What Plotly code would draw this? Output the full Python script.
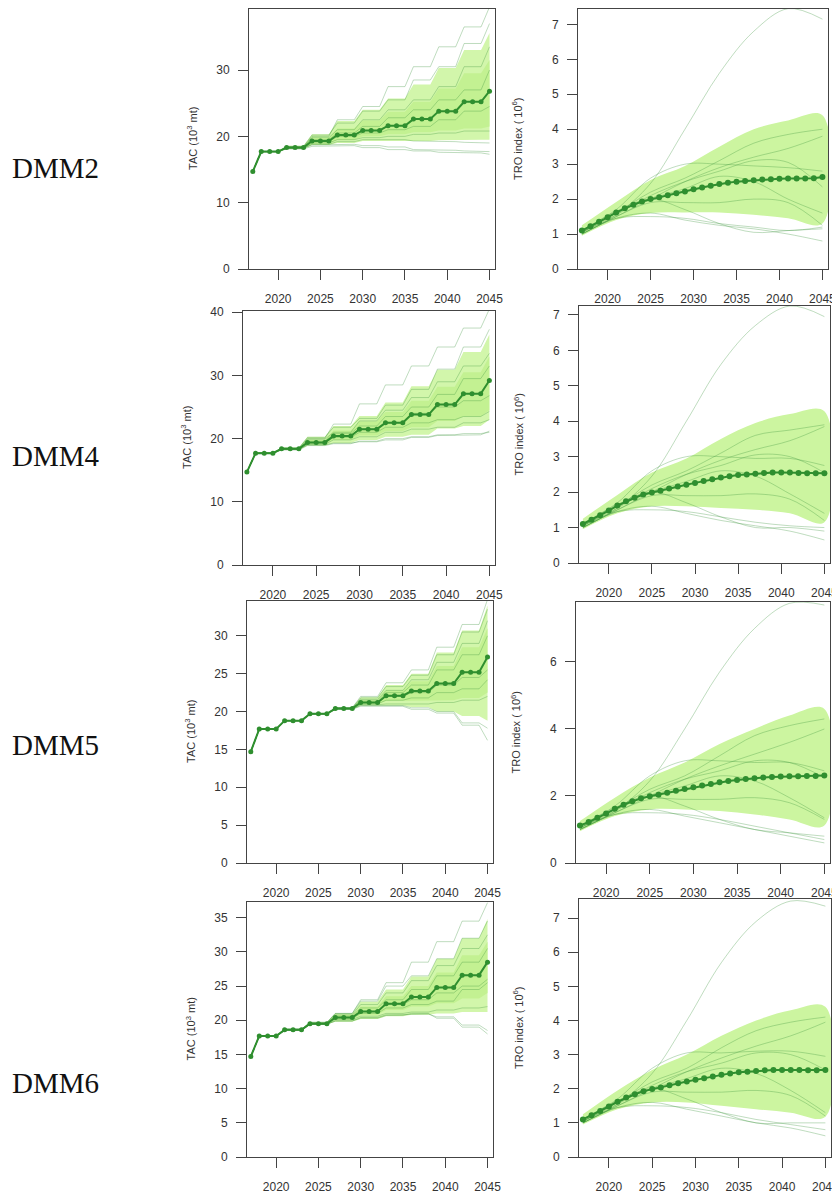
import plotly.graph_objects as go

# ---------------- DATA ----------------
YEARS = list(range(2017, 2046))
TRO_X = [2017, 2021, 2025, 2029, 2033, 2037, 2041, 2045]
ROW_LABELS = ["DMM2", "DMM4", "DMM5", "DMM6"]
TAC_TICKS = [[0, 10, 20, 30], [0, 10, 20, 30, 40], [0, 5, 10, 15, 20, 25, 30], [0, 5, 10, 15, 20, 25, 30, 35]]
TRO_TICKS = [[0, 1, 2, 3, 4, 5, 6, 7], [0, 1, 2, 3, 4, 5, 6, 7], [0, 2, 4, 6], [0, 1, 2, 3, 4, 5, 6, 7]]
X_TICKS = [2020, 2025, 2030, 2035, 2040, 2045]

# TAC values per management block: [2017, 2018-20, 2021-23, 2024-26, 2027-29, 2030-32, 2033-35, 2036-38, 2039-41, 2042-44, 2045]
tac_med_dmm2 = [14.7, 17.7, 18.3, 19.3, 20.2, 20.9, 21.6, 22.6, 23.8, 25.2, 26.8]
tac_hi_dmm2 = [14.7, 17.8, 18.6, 20.3, 22.3, 24.0, 25.7, 27.8, 30.3, 33.0, 35.6]
tac_lo_dmm2 = [14.7, 17.6, 18.1, 18.7, 19.0, 19.3, 19.4, 19.3, 19.4, 19.5, 19.5]
tac_ihi_dmm2 = [14.7, 17.7, 18.4, 19.8, 21.2, 22.4, 23.7, 25.2, 27.2, 29.5, 31.5]
tac_ilo_dmm2 = [14.7, 17.7, 18.2, 18.9, 19.5, 20.0, 20.3, 20.6, 20.9, 21.2, 21.5]
tac_worms_dmm2 = [
    [14.7, 17.7, 18.4, 20.0, 22.5, 24.5, 27.5, 30.5, 33.5, 36.5, 39.5],
    [14.7, 17.7, 18.5, 20.2, 22.0, 23.8, 25.5, 28.5, 30.5, 34.0, 37.0],
    [14.7, 17.7, 18.4, 19.8, 21.0, 22.5, 24.0, 25.5, 27.5, 30.5, 33.5],
    [14.7, 17.7, 18.3, 19.5, 20.5, 21.5, 22.8, 24.0, 25.5, 27.0, 30.0],
    [14.7, 17.7, 18.3, 19.2, 20.0, 20.5, 21.0, 21.5, 22.5, 23.8, 24.5],
    [14.7, 17.7, 18.2, 19.0, 19.5, 19.8, 20.0, 20.3, 20.5, 20.8, 20.8],
    [14.7, 17.7, 18.2, 18.8, 19.2, 19.5, 19.5, 19.3, 19.2, 19.1, 19.0],
    [14.7, 17.7, 18.1, 18.5, 18.6, 18.3, 18.0, 17.8, 17.6, 17.5, 17.3],
    [14.7, 17.7, 18.2, 18.7, 18.8, 18.6, 18.4, 18.0, 17.9, 17.8, 17.7],
]

tac_med_dmm4 = [14.7, 17.7, 18.4, 19.4, 20.4, 21.5, 22.5, 23.8, 25.4, 27.1, 29.2]
tac_hi_dmm4 = [14.7, 17.8, 18.6, 20.3, 22.0, 23.6, 25.7, 28.3, 30.9, 33.7, 36.5]
tac_lo_dmm4 = [14.7, 17.6, 18.2, 18.9, 19.3, 19.8, 20.3, 20.6, 21.6, 22.0, 23.0]
tac_ihi_dmm4 = [14.7, 17.7, 18.5, 19.8, 21.3, 22.7, 24.2, 26.0, 28.2, 30.5, 33.0]
tac_ilo_dmm4 = [14.7, 17.7, 18.3, 19.1, 19.8, 20.5, 21.2, 21.8, 22.8, 23.5, 24.5]
tac_worms_dmm4 = [
    [14.7, 17.7, 18.5, 20.0, 22.3, 25.5, 28.5, 31.5, 34.5, 37.5, 40.5],
    [14.7, 17.7, 18.5, 20.2, 21.8, 23.2, 25.3, 27.8, 31.0, 34.5, 37.3],
    [14.7, 17.7, 18.4, 19.9, 21.0, 22.8, 24.5, 26.5, 29.0, 31.5, 33.5],
    [14.7, 17.7, 18.4, 19.6, 20.8, 22.0, 23.5, 25.0, 27.0, 29.5, 31.5],
    [14.7, 17.7, 18.4, 19.4, 20.5, 21.5, 22.5, 24.0, 25.0, 26.0, 26.8],
    [14.7, 17.7, 18.3, 19.3, 20.2, 21.0, 21.8, 22.5, 23.0, 23.5, 24.3],
    [14.7, 17.7, 18.3, 19.1, 19.8, 20.3, 21.0, 21.5, 21.8, 22.5, 23.0],
    [14.7, 17.7, 18.3, 19.0, 19.3, 19.5, 19.8, 20.2, 20.5, 20.6, 21.2],
    [14.7, 17.7, 18.2, 18.9, 19.2, 19.6, 20.0, 20.3, 20.6, 20.8, 21.0],
]

tac_med_dmm5 = [14.7, 17.7, 18.8, 19.7, 20.4, 21.2, 22.1, 22.7, 23.7, 25.2, 27.2]
tac_hi_dmm5 = [14.7, 17.7, 18.8, 19.7, 20.5, 21.9, 23.5, 25.0, 27.8, 30.7, 34.0]
tac_lo_dmm5 = [14.7, 17.7, 18.8, 19.7, 20.3, 20.8, 20.8, 20.6, 20.0, 19.4, 18.8]
tac_ihi_dmm5 = [14.7, 17.7, 18.8, 19.7, 20.45, 21.5, 22.8, 24.0, 26.0, 28.5, 31.0]
tac_ilo_dmm5 = [14.7, 17.7, 18.8, 19.7, 20.35, 21.0, 21.4, 21.5, 21.5, 21.8, 22.5]
tac_worms_dmm5 = [
    [14.7, 17.7, 18.8, 19.7, 20.5, 22.0, 23.8, 25.5, 28.5, 31.5, 34.8],
    [14.7, 17.7, 18.8, 19.7, 20.5, 21.8, 23.3, 24.8, 27.5, 30.5, 33.5],
    [14.7, 17.7, 18.8, 19.7, 20.5, 21.6, 22.8, 24.2, 26.5, 29.0, 32.0],
    [14.7, 17.7, 18.8, 19.7, 20.4, 21.4, 22.5, 23.5, 25.5, 27.5, 30.0],
    [14.7, 17.7, 18.8, 19.7, 20.4, 21.2, 22.0, 22.5, 23.5, 24.5, 25.5],
    [14.7, 17.7, 18.8, 19.7, 20.4, 21.0, 21.5, 21.8, 22.5, 23.0, 24.2],
    [14.7, 17.7, 18.8, 19.7, 20.3, 20.9, 21.0, 21.0, 21.2, 21.5, 22.0],
    [14.7, 17.7, 18.8, 19.7, 20.3, 20.8, 20.8, 20.5, 20.0, 18.5, 17.8],
    [14.7, 17.7, 18.8, 19.7, 20.3, 20.7, 20.7, 20.3, 19.8, 18.2, 16.2],
]

tac_med_dmm6 = [14.7, 17.7, 18.6, 19.5, 20.4, 21.3, 22.4, 23.4, 24.8, 26.6, 28.5]
tac_hi_dmm6 = [14.7, 17.7, 18.7, 19.7, 21.0, 22.7, 24.5, 26.4, 29.0, 32.0, 34.8]
tac_lo_dmm6 = [14.7, 17.7, 18.5, 19.4, 19.8, 20.2, 20.6, 20.8, 21.0, 21.2, 21.2]
tac_ihi_dmm6 = [14.7, 17.7, 18.65, 19.6, 20.8, 22.0, 23.5, 25.0, 27.0, 29.5, 31.5]
tac_ilo_dmm6 = [14.7, 17.7, 18.55, 19.45, 20.1, 20.8, 21.5, 22.0, 22.5, 23.2, 24.0]
tac_worms_dmm6 = [
    [14.7, 17.7, 18.7, 19.7, 21.0, 23.0, 25.5, 28.5, 31.5, 34.5, 37.2],
    [14.7, 17.7, 18.7, 19.7, 21.0, 22.8, 25.0, 26.5, 29.0, 32.0, 34.5],
    [14.7, 17.7, 18.7, 19.6, 20.8, 22.3, 24.0, 25.8, 28.0, 30.5, 32.5],
    [14.7, 17.7, 18.6, 19.6, 20.6, 21.8, 23.0, 24.5, 26.5, 28.5, 30.5],
    [14.7, 17.7, 18.6, 19.5, 20.4, 21.3, 22.3, 23.0, 24.0, 25.0, 26.0],
    [14.7, 17.7, 18.6, 19.5, 20.3, 21.0, 21.8, 22.3, 22.8, 24.5, 25.5],
    [14.7, 17.7, 18.6, 19.4, 20.1, 20.6, 21.0, 21.2, 21.5, 21.8, 22.0],
    [14.7, 17.7, 18.5, 19.4, 19.9, 20.3, 20.7, 21.0, 20.3, 19.0, 18.0],
    [14.7, 17.7, 18.5, 19.4, 19.9, 20.4, 20.8, 20.9, 20.5, 19.3, 18.5],
]

# TRO index: median per year, band and worms at TRO_X
tro_med_dmm2 = [1.10, 1.22, 1.35, 1.48, 1.62, 1.74, 1.84, 1.93, 2.00, 2.05, 2.11, 2.17, 2.22, 2.28, 2.33,
                2.38, 2.43, 2.47, 2.50, 2.52, 2.54, 2.56, 2.57, 2.58, 2.59, 2.59, 2.59, 2.60, 2.63]
tro_hi_dmm2 = [1.25, 1.92, 2.55, 2.95, 3.50, 4.00, 4.25, 4.40]
tro_lo_dmm2 = [0.95, 1.40, 1.60, 1.62, 1.62, 1.55, 1.45, 1.30]
tro_worms_dmm2 = [
    [1.00, 1.55, 2.45, 4.00, 5.60, 6.80, 7.45, 7.15],
    [1.05, 1.60, 2.20, 2.60, 3.10, 3.60, 3.85, 4.00],
    [1.00, 1.50, 2.00, 2.50, 2.90, 3.20, 3.45, 3.80],
    [1.10, 1.70, 2.60, 3.00, 3.00, 2.95, 2.90, 2.80],
    [1.05, 1.55, 2.10, 2.50, 2.80, 3.10, 3.05, 2.35],
    [1.05, 1.60, 2.00, 2.30, 2.65, 2.50, 2.00, 1.60],
    [1.00, 1.50, 1.90, 1.90, 1.90, 2.00, 1.90, 1.25],
    [1.10, 1.65, 2.00, 1.70, 1.30, 1.05, 1.10, 1.15],
    [1.00, 1.45, 1.60, 1.40, 1.25, 1.15, 1.00, 0.80],
    [1.05, 1.45, 1.50, 1.45, 1.30, 1.20, 1.10, 1.20],
]

tro_med_dmm4 = [1.10, 1.22, 1.35, 1.48, 1.62, 1.74, 1.84, 1.93, 1.99, 2.04, 2.10, 2.16, 2.21, 2.26, 2.31,
                2.36, 2.41, 2.45, 2.48, 2.50, 2.52, 2.54, 2.55, 2.55, 2.55, 2.54, 2.53, 2.53, 2.53]
tro_hi_dmm4 = [1.25, 1.92, 2.55, 2.95, 3.50, 3.95, 4.20, 4.28]
tro_lo_dmm4 = [0.95, 1.40, 1.60, 1.60, 1.55, 1.50, 1.40, 1.15]
tro_worms_dmm4 = [
    [1.00, 1.55, 2.45, 4.00, 5.60, 6.70, 7.25, 6.95],
    [1.05, 1.60, 2.20, 2.60, 3.10, 3.60, 3.75, 3.90],
    [1.00, 1.50, 2.00, 2.50, 2.90, 3.20, 3.45, 3.85],
    [1.10, 1.70, 2.60, 3.00, 3.00, 2.95, 2.95, 2.75],
    [1.05, 1.55, 2.10, 2.50, 2.75, 3.05, 3.00, 2.55],
    [1.05, 1.60, 2.00, 2.30, 2.60, 2.45, 1.95, 1.40],
    [1.00, 1.50, 1.90, 1.90, 1.90, 1.95, 1.80, 1.20],
    [1.10, 1.65, 2.00, 1.70, 1.30, 1.00, 1.00, 0.90],
    [1.00, 1.45, 1.60, 1.40, 1.20, 1.05, 0.90, 0.65],
    [1.05, 1.45, 1.50, 1.45, 1.30, 1.15, 1.05, 1.00],
]

tro_med_dmm5 = [1.12, 1.22, 1.35, 1.48, 1.62, 1.74, 1.84, 1.93, 1.99, 2.04, 2.10, 2.16, 2.21, 2.26, 2.31,
                2.36, 2.41, 2.45, 2.48, 2.51, 2.53, 2.55, 2.57, 2.58, 2.59, 2.59, 2.60, 2.60, 2.61]
tro_hi_dmm5 = [1.25, 1.95, 2.55, 3.00, 3.55, 4.00, 4.40, 4.60]
tro_lo_dmm5 = [0.95, 1.40, 1.60, 1.60, 1.55, 1.45, 1.30, 1.12]
tro_worms_dmm5 = [
    [1.00, 1.55, 2.45, 4.00, 5.70, 7.00, 7.75, 7.70],
    [1.05, 1.60, 2.20, 2.60, 3.20, 3.80, 4.10, 4.30],
    [1.00, 1.50, 2.00, 2.50, 2.90, 3.25, 3.60, 4.00],
    [1.10, 1.70, 2.60, 3.05, 3.05, 3.00, 3.00, 2.75],
    [1.05, 1.55, 2.10, 2.50, 2.75, 3.05, 3.00, 2.55],
    [1.05, 1.60, 2.00, 2.30, 2.60, 2.45, 1.95, 1.35],
    [1.00, 1.50, 1.90, 1.90, 1.90, 1.95, 1.80, 1.30],
    [1.10, 1.65, 2.00, 1.70, 1.30, 1.00, 0.90, 0.80],
    [1.00, 1.45, 1.60, 1.40, 1.20, 1.00, 0.80, 0.60],
    [1.05, 1.45, 1.50, 1.45, 1.30, 1.10, 0.90, 0.70],
]

tro_med_dmm6 = [1.10, 1.22, 1.35, 1.48, 1.62, 1.74, 1.84, 1.93, 1.99, 2.04, 2.10, 2.16, 2.21, 2.26, 2.31,
                2.36, 2.41, 2.45, 2.48, 2.50, 2.52, 2.54, 2.55, 2.55, 2.55, 2.55, 2.54, 2.54, 2.55]
tro_hi_dmm6 = [1.25, 1.95, 2.55, 3.00, 3.55, 4.00, 4.30, 4.40]
tro_lo_dmm6 = [0.95, 1.40, 1.60, 1.60, 1.50, 1.40, 1.30, 1.18]
tro_worms_dmm6 = [
    [1.00, 1.55, 2.45, 4.00, 5.70, 6.90, 7.50, 7.35],
    [1.05, 1.60, 2.20, 2.60, 3.20, 3.70, 3.95, 4.10],
    [1.00, 1.50, 2.00, 2.50, 2.90, 3.25, 3.55, 3.95],
    [1.10, 1.70, 2.60, 3.05, 3.05, 3.10, 3.10, 2.95],
    [1.05, 1.55, 2.10, 2.50, 2.75, 3.05, 3.00, 2.55],
    [1.05, 1.60, 2.00, 2.30, 2.60, 2.45, 1.95, 1.30],
    [1.00, 1.50, 1.90, 1.90, 1.90, 1.95, 1.80, 1.20],
    [1.10, 1.65, 2.00, 1.70, 1.30, 1.00, 1.00, 1.00],
    [1.00, 1.45, 1.60, 1.40, 1.20, 1.00, 0.85, 0.62],
    [1.05, 1.45, 1.50, 1.45, 1.30, 1.10, 0.95, 0.80],
]

TAC_SETS = [
    (tac_med_dmm2, tac_hi_dmm2, tac_lo_dmm2, tac_ihi_dmm2, tac_ilo_dmm2, tac_worms_dmm2),
    (tac_med_dmm4, tac_hi_dmm4, tac_lo_dmm4, tac_ihi_dmm4, tac_ilo_dmm4, tac_worms_dmm4),
    (tac_med_dmm5, tac_hi_dmm5, tac_lo_dmm5, tac_ihi_dmm5, tac_ilo_dmm5, tac_worms_dmm5),
    (tac_med_dmm6, tac_hi_dmm6, tac_lo_dmm6, tac_ihi_dmm6, tac_ilo_dmm6, tac_worms_dmm6),
]
TRO_SETS = [
    (tro_med_dmm2, tro_hi_dmm2, tro_lo_dmm2, tro_worms_dmm2),
    (tro_med_dmm4, tro_hi_dmm4, tro_lo_dmm4, tro_worms_dmm4),
    (tro_med_dmm5, tro_hi_dmm5, tro_lo_dmm5, tro_worms_dmm5),
    (tro_med_dmm6, tro_hi_dmm6, tro_lo_dmm6, tro_worms_dmm6),
]

# ---------------- LAYOUT (page pixel boxes: left, top, right, bottom) ----------------
PAGE_W, PAGE_H = 840, 1194
OFF = 8  # default body margin of the html page
W, H = PAGE_W - OFF, PAGE_H - OFF
TAC_BOX = [(249, 9, 495, 269), (243, 311, 495, 565), (247, 601, 493, 863), (247, 902, 493, 1157)]
TRO_BOX = [(578, 9, 828, 269), (579, 306, 830, 563), (576, 602, 830, 863), (579, 899, 831, 1157)]
TAC_YMAX = [39.2, 40.2, 34.6, 37.3]
TRO_YMAX = [7.44, 7.25, 7.79, 7.56]
LABEL_Y = [168, 456, 745, 1083]
XR = [2016.55, 2045.65]

MED_COL = "#2f8f2f"
WORM_COL = "rgba(60,150,60,0.33)"
BAND_OUT = "#d2f6ab"
BAND_IN = "#c3f192"
BAND_TRO = "#ccf5a0"
AX_COL = "#444444"
FONT = "Liberation Sans, Arial, sans-serif"


def px(x):
    return (x - OFF) / W


def py(y):
    return 1 - (y - OFF) / H


def expand_blocks(v):
    out = [v[0]]
    for b in v[1:10]:
        out += [b, b, b]
    out.append(v[10])
    return out


fig = go.Figure()
layout = {}


def add_axes(idx, box, ymax, yticks):
    l, t, r, b = box
    xa = "xaxis" if idx == 1 else f"xaxis{idx}"
    ya = "yaxis" if idx == 1 else f"yaxis{idx}"
    common = dict(showline=True, linecolor=AX_COL, linewidth=1, mirror=True, showgrid=False,
                  zeroline=False, ticks="outside", tickcolor=AX_COL, automargin=False,
                  ticklen=10, tickfont=dict(family=FONT, size=12, color="#333333"))
    layout[xa] = dict(domain=[px(l), px(r)], anchor=f"y{idx}", range=XR, tickvals=X_TICKS,
                      ticklabelstandoff=9, **common)
    layout[ya] = dict(domain=[max(0, py(b)), min(1, py(t))], anchor=f"x{idx}", range=[0, ymax],
                      tickvals=yticks, ticklabelstandoff=6, **common)
    return f"x{idx}", f"y{idx}"


annotations = []
for row in range(4):
    # ---- TAC panel ----
    med, hi, lo, ihi, ilo, worms = TAC_SETS[row]
    xr_, yr_ = add_axes(2 * row + 1, TAC_BOX[row], TAC_YMAX[row], TAC_TICKS[row])
    hi_y, lo_y = expand_blocks(hi), expand_blocks(lo)
    fig.add_trace(go.Scatter(x=YEARS + YEARS[::-1], y=hi_y + lo_y[::-1], fill="toself",
                             fillcolor=BAND_OUT, line=dict(width=0), mode="lines",
                             xaxis=xr_, yaxis=yr_, showlegend=False, hoverinfo="skip"))
    ihi_y, ilo_y = expand_blocks(ihi), expand_blocks(ilo)
    fig.add_trace(go.Scatter(x=YEARS + YEARS[::-1], y=ihi_y + ilo_y[::-1], fill="toself",
                             fillcolor=BAND_IN, line=dict(width=0), mode="lines",
                             xaxis=xr_, yaxis=yr_, showlegend=False, hoverinfo="skip"))
    for w in worms:
        fig.add_trace(go.Scatter(x=YEARS, y=expand_blocks(w), mode="lines",
                                 line=dict(color=WORM_COL, width=1), xaxis=xr_, yaxis=yr_,
                                 showlegend=False, hoverinfo="skip"))
    fig.add_trace(go.Scatter(x=YEARS, y=expand_blocks(med), mode="lines+markers",
                             line=dict(color=MED_COL, width=2), marker=dict(color=MED_COL, size=5),
                             xaxis=xr_, yaxis=yr_, showlegend=False))
    l, t, r, b = TAC_BOX[row]
    annotations.append(dict(x=px(l - 57), y=py((t + b) / 2), xref="paper", yref="paper",
                            text="TAC (10<sup>3</sup> mt)", textangle=-90, showarrow=False,
                            font=dict(family=FONT, size=11, color="#333333"),
                            xanchor="center", yanchor="middle"))

    # ---- TRO panel ----
    tmed, thi, tlo, tworms = TRO_SETS[row]
    xr_, yr_ = add_axes(2 * row + 2, TRO_BOX[row], TRO_YMAX[row], TRO_TICKS[row])
    fig.add_trace(go.Scatter(x=TRO_X + TRO_X[::-1], y=thi + tlo[::-1], fill="toself",
                             fillcolor=BAND_TRO, line=dict(width=0, shape="spline"), mode="lines",
                             xaxis=xr_, yaxis=yr_, showlegend=False, hoverinfo="skip"))
    for w in tworms:
        fig.add_trace(go.Scatter(x=TRO_X, y=w, mode="lines",
                                 line=dict(color=WORM_COL, width=1, shape="spline"),
                                 xaxis=xr_, yaxis=yr_, showlegend=False, hoverinfo="skip"))
    fig.add_trace(go.Scatter(x=YEARS, y=tmed, mode="lines+markers",
                             line=dict(color=MED_COL, width=2), marker=dict(color=MED_COL, size=6),
                             xaxis=xr_, yaxis=yr_, showlegend=False))
    l, t, r, b = TRO_BOX[row]
    annotations.append(dict(x=px(l - 61), y=py((t + b) / 2), xref="paper", yref="paper",
                            text="TRO index ( 10<sup>6</sup>)", textangle=-90, showarrow=False,
                            font=dict(family=FONT, size=11, color="#333333"),
                            xanchor="center", yanchor="middle"))

    # ---- row label ----
    annotations.append(dict(x=px(10), y=py(LABEL_Y[row]), xref="paper", yref="paper",
                            text=ROW_LABELS[row], showarrow=False, xanchor="left", yanchor="middle",
                            font=dict(family="Liberation Serif, Times New Roman, serif", size=29,
                                      color="#111111")))

fig.update_layout(width=W, height=H, margin=dict(l=0, r=0, t=0, b=0),
                  paper_bgcolor="white", plot_bgcolor="white", showlegend=False,
                  annotations=annotations, **layout)
fig.write_html("out.html")
